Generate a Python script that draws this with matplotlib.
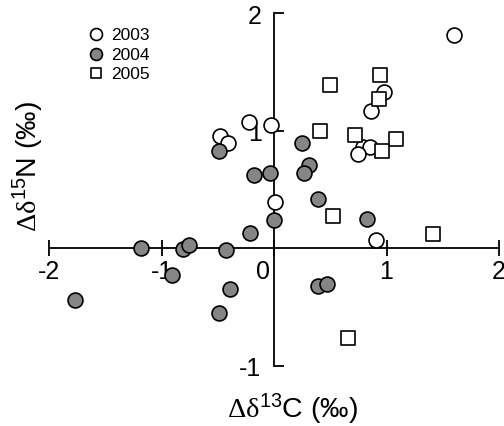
import numpy as np
import matplotlib
matplotlib.use("Agg")
import matplotlib.pyplot as plt
import matplotlib.transforms as mtransforms

plt.rcParams['font.family'] = ['Liberation Sans', 'DejaVu Sans']
plt.rcParams['mathtext.fontset'] = 'custom'
plt.rcParams['mathtext.rm'] = 'Liberation Serif'
plt.rcParams['mathtext.default'] = 'regular'

# data (delta13C, delta15N differences, per mil)
x2003 = [1.60, 0.98, 0.86, -0.22, -0.03, -0.48, -0.41, 0.79, 0.85, 0.75, 0.01, 0.91]
y2003 = [1.81, 1.33, 1.17, 1.07, 1.05, 0.95, 0.89, 0.86, 0.86, 0.80, 0.39, 0.07]

x2004 = [-0.49, 0.25, 0.31, 0.27, -0.18, -0.04, 0.39, 0.00, 0.83, -0.21,
         -1.18, -0.81, -0.76, -0.43, -0.91, -1.77, -0.39, 0.39, 0.47, -0.49]
y2004 = [0.83, 0.89, 0.71, 0.64, 0.62, 0.64, 0.42, 0.24, 0.25, 0.13,
         0.00, -0.01, 0.03, -0.02, -0.23, -0.44, -0.35, -0.32, -0.31, -0.55]

x2005 = [0.94, 0.50, 0.93, 0.41, 0.72, 1.08, 0.96, 0.52, 1.41, 0.66]
y2005 = [1.47, 1.39, 1.27, 1.00, 0.96, 0.93, 0.83, 0.27, 0.12, -0.77]

xticks = [-2, -1, 0, 1, 2]
yticks = [-1, 1, 2]

fig = plt.figure(figsize=(5.04, 4.27), dpi=100)
ax = fig.add_axes([0, 0, 1, 1])
ax.patch.set_alpha(0)

ax.scatter(x2003, y2003, s=115, facecolor='white', edgecolor='black', linewidth=1.2, label='2003', zorder=3)
ax.scatter(x2004, y2004, s=115, facecolor='#858585', edgecolor='black', linewidth=1.2, label='2004', zorder=3)
ax.scatter(x2005, y2005, s=90, marker='s', facecolor='white', edgecolor='black', linewidth=1.2, label='2005', zorder=3)

ax.set_xlim(-2.436, 2.044)
ax.set_ylim(-1.515, 2.12)

# axes crossing at the origin
for side in ['top', 'right']:
    ax.spines[side].set_visible(False)
ax.spines['left'].set_position(('data', 0))
ax.spines['bottom'].set_position(('data', 0))
ax.spines['left'].set_bounds(-1, 2)
ax.spines['bottom'].set_bounds(-2, 2)
ax.spines['left'].set_linewidth(1.3)
ax.spines['bottom'].set_linewidth(1.3)

ax.set_xticks(xticks)
ax.set_xticklabels([str(t) for t in xticks])
ax.set_yticks(yticks)
ax.set_yticklabels([str(t) for t in yticks])
ax.tick_params(axis='x', direction='inout', length=12, width=1.3, labelsize=18, pad=2)
ax.tick_params(axis='y', direction='in', length=7, width=1.3, labelsize=18, pad=9)

# shift the "0" label left of the vertical axis
zero_lab = ax.get_xticklabels()[2]
zero_lab.set_transform(zero_lab.get_transform() + mtransforms.ScaledTranslation(-0.11, 0, fig.dpi_scale_trans))

ax.set_xlabel(r'$\mathrm{\Delta\delta}^{13}$C (‰)', fontsize=20.5)
ax.xaxis.set_label_coords(0.58, 0.082)
ax.set_ylabel(r'$\mathrm{\Delta\delta}^{15}$N (‰)', fontsize=20.5)
ax.yaxis.set_label_coords(0.092, 0.61)

ax.legend(loc='upper left', bbox_to_anchor=(0.155, 0.955), frameon=False, fontsize=12.5,
          markerscale=0.8, handletextpad=0.3, labelspacing=0.25, borderpad=0, handlelength=1.1)

fig.savefig('out.png', dpi=100)
